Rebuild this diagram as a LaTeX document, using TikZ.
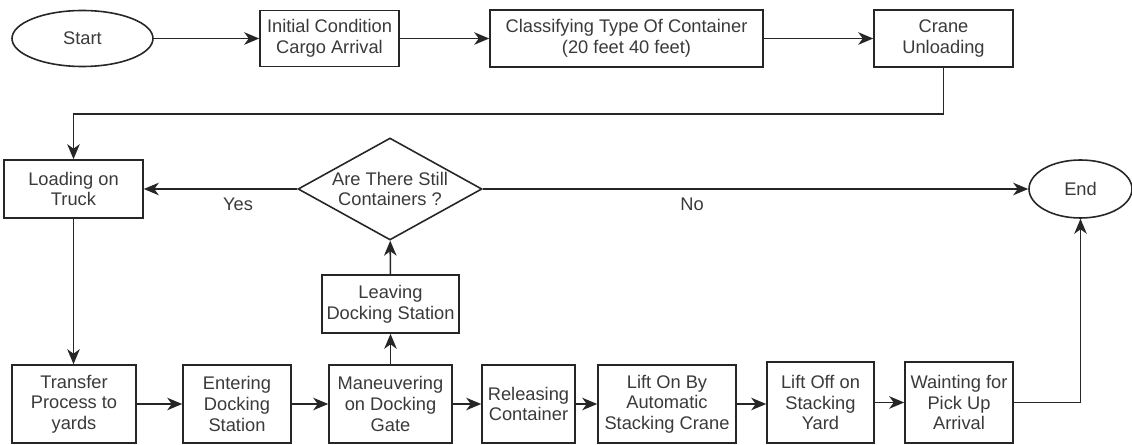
\documentclass[tikz,border=0pt]{standalone}
\usepackage{fontspec}
\setmainfont{Liberation Sans}
\usepackage{xcolor}
\usetikzlibrary{
    shapes.geometric,
    arrows.meta,
    positioning,
    calc
}
\definecolor{dark}{HTML}{262626}
\definecolor{textgray}{HTML}{3A3A3A}
\tikzset{
    % Process box style
    process/.style={
        rectangle,
        minimum width=2.78cm,
        minimum height=1.14cm,
        align=center,
        inner sep=1pt,
        font=\fontsize{10.4}{11.7}\selectfont,
        text=textgray,
        draw=dark,
        fill=white,
        line width=0.9pt
    },
    % Start / end style
    terminal/.style={
        ellipse,
        inner sep=0pt,
        align=center,
        font=\fontsize{10.4}{11.7}\selectfont,
        text=textgray,
        draw=dark,
        fill=white,
        line width=0.9pt
    },
    % Decision style
    decision/.style={
        diamond,
        aspect=1.8,
        inner sep=0pt,
        align=center,
        font=\fontsize{10.4}{11.7}\selectfont,
        text=textgray,
        draw=dark,
        fill=white,
        line width=0.9pt
    },
    % Arrow style
    flow/.style={
        -{Stealth[length=3mm, width=2.5mm, inset=0.9mm]},
        line width=0.9pt,
        color=dark
    },
    % Label style
    label text/.style={
        font=\fontsize{10.4}{11.7}\selectfont,
        text=textgray,
        inner sep=1pt
    }
}
\begin{document}
\begin{tikzpicture}

        \useasboundingbox (0,0) rectangle (22.64,-8.9);

        % Top row
        \node[terminal, minimum width=2.82cm, minimum height=1.12cm] (start) at (1.65, -0.77) {Start};
        \node[process, minimum height=1.12cm] (init) at (6.59, -0.77) {Initial Condition\\Cargo Arrival};
        \node[process, minimum width=5.46cm] (classify) at (12.53, -0.77) {Classifying Type Of Container\\(20 feet 40 feet)};
        \node[process] (crane) at (18.87, -0.77) {Crane\\Unloading};

        % Middle row
        \node[process, minimum height=1.16cm] (load) at (1.47, -3.78) {Loading on\\Truck};
        \node[decision, minimum width=3.68cm, minimum height=2.04cm] (decide) at (7.80, -3.78) {Are There Still\\Containers ?};
        \node[terminal, minimum width=2.06cm, minimum height=1.16cm] (finish) at (21.61, -3.78) {End};
        \node[process, minimum width=2.74cm, minimum height=1.16cm] (leave) at (7.81, -6.08) {Leaving\\Docking Station};

        % Bottom row
        \node[process, minimum width=2.48cm, minimum height=1.56cm] (transfer) at (1.48, -8.08) {Transfer\\Process to\\yards};
        \node[process, minimum width=2.16cm, minimum height=1.56cm] (enter) at (4.74, -8.08) {Entering\\Docking\\Station};
        \node[process, minimum width=2.46cm, minimum height=1.56cm] (maneuver) at (7.81, -8.08) {Maneuvering\\on Docking\\Gate};
        \node[process, minimum width=1.86cm, minimum height=1.56cm] (release) at (10.57, -8.08) {Releasing\\Container};
        \node[process, minimum width=2.76cm, minimum height=1.56cm] (lifton) at (13.34, -8.08) {Lift On By\\Automatic\\Stacking Crane};
        \node[process, minimum width=2.14cm, minimum height=1.62cm] (liftoff) at (16.41, -8.05) {Lift Off on\\Stacking\\Yard};
        \node[process, minimum width=2.16cm, minimum height=1.62cm] (waiting) at (19.18, -8.05) {Wainting for\\Pick Up\\Arrival};

        % Turning point
        \coordinate (turn) at (18.87, -2.28);

        % Connections
        \draw[flow] (start) -- (init);
        \draw[flow] (init) -- (classify);
        \draw[flow] (classify) -- (crane);
        \draw[flow] (crane.south) -- (turn) -| (load.north);

        \draw[flow] (decide.west) -- (load.east);
        \draw[flow] (decide.east) -- (finish.west);
        \node[label text] (yes) at (4.76, -4.09) {Yes};
        \node[label text] (no) at (13.84, -4.09) {No};

        \draw[flow] (load.south) -- (load.south |- transfer.north);
        \draw[flow] (transfer) -- (enter);
        \draw[flow] (enter) -- (maneuver);
        \draw[flow] (maneuver) -- (release);
        \draw[flow] (release) -- (lifton);
        \draw[flow] (lifton.east) -- (lifton.east -| liftoff.west);
        \draw[flow] (liftoff) -- (waiting);
        \draw[flow] (waiting.east) -| (finish.south);

        \draw[flow] (maneuver) -- (leave);
        \draw[flow] (leave) -- (decide);

    \end{tikzpicture}
\end{document}
